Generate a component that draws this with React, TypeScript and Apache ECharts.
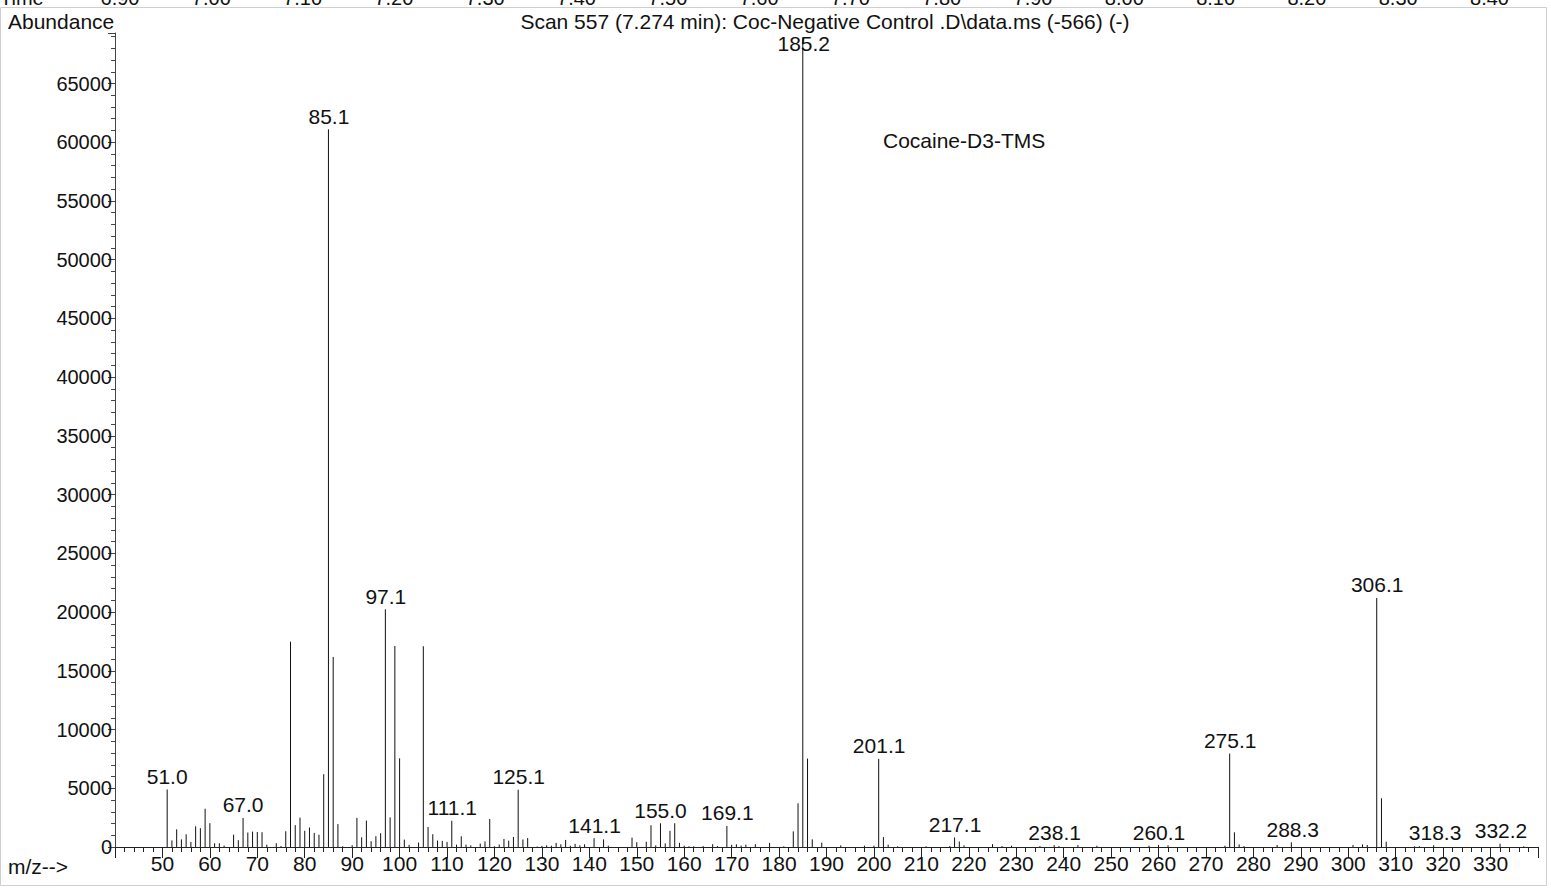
import React, { useEffect, useRef } from "react";
import * as echarts from "echarts";

const FONT = '"Liberation Sans", Arial, Helvetica, sans-serif';

// m/z of every centroided peak and its abundance
const peakMz = [
  51, 52, 53, 54, 55, 56, 57, 58, 59, 60, 61, 62, 63, 65, 66, 67, 68, 69, 70, 71, 72, 74, 75, 76, 77, 78, 79, 80,
  81, 82, 83, 84, 85, 86, 87, 88, 90, 91, 92, 93, 94, 95, 96, 97, 98, 99, 100, 101, 102, 104, 105, 106, 107, 108,
  109, 110, 111, 112, 113, 114, 115, 117, 118, 119, 120, 121, 122, 123, 124, 125, 126, 127, 129, 130, 131, 132,
  133, 134, 135, 136, 137, 138, 139, 141, 143, 144, 149, 150, 152, 153, 154, 155, 156, 157, 158, 159, 160, 161,
  162, 164, 166, 167, 169, 170, 171, 172, 173, 175, 178, 181, 183, 184, 185, 186, 187, 189, 193, 198, 200, 201,
  202, 203, 205, 211, 216, 217, 218, 219, 225, 227, 229, 235, 238, 239, 243, 247, 258, 260, 262, 274, 275, 276,
  277, 278, 285, 288, 301, 303, 304, 306, 307, 308, 314, 315, 318, 332, 337,
];
const peakAbundance = [
  4900, 560, 1500, 650, 1080, 430, 1760, 1600, 3260, 2030, 320, 320, 120, 1050, 580, 2470, 1230, 1310, 1280, 1260,
  200, 320, 90, 1340, 17480, 1860, 2500, 1380, 1660, 1200, 1050, 6200, 61100, 16180, 1950, 60, 150, 2480, 830, 2250,
  490, 920, 1170, 20240, 2520, 17110, 7550, 630, 180, 380, 17090, 1700, 1090, 550, 520, 430, 2230, 200, 910, 200,
  140, 290, 470, 2390, 60, 210, 680, 540, 850, 4880, 640, 760, 40, 90, 140, 110, 350, 230, 600, 110, 270, 140, 230,
  750, 650, 110, 800, 410, 450, 1850, 140, 2020, 310, 1380, 2020, 350, 110, 60, 60, 80, 240, 80, 1790, 190, 230,
  120, 200, 240, 350, 60, 1330, 3720, 68900, 7530, 650, 370, 140, 110, 110, 7500, 840, 200, 60, 60, 90, 810, 470,
  140, 240, 90, 110, 80, 160, 80, 160, 110, 110, 170, 140, 110, 7950, 1250, 220, 80, 170, 400, 170, 220, 170, 21200,
  4150, 450, 60, 60, 150, 280, 60,
];

// labelled peaks (m/z as printed)
const labelMz = [51.0, 67.0, 85.1, 97.1, 111.1, 125.1, 141.1, 155.0, 169.1, 185.2, 201.1, 217.1, 238.1, 260.1, 275.1, 288.3, 306.1, 318.3, 332.2];

// retention time axis (cut off at the top of the page)
const timeTickLabels = ["6.90", "7.00", "7.10", "7.20", "7.30", "7.40", "7.50", "7.60", "7.70", "7.80", "7.90", "8.00", "8.10", "8.20", "8.30", "8.40"];

const xMin = 40;
const xMax = 340;
const xInterval = 10;
const yMin = 0;
const yMax = 69300;
const yInterval = 5000;

const titleText = "Scan 557 (7.274 min): Coc-Negative Control .D\\data.ms (-566) (-)";
const compoundText = "Cocaine-D3-TMS";

export default function App() {
  const ref = useRef<HTMLDivElement>(null);

  useEffect(() => {
    if (!ref.current) return;
    const chart = echarts.init(ref.current, null, { renderer: "svg" });

    const peakData = peakMz.map((m, i) => [m, peakAbundance[i]]);
    const labelData = labelMz.map((m) => {
      const idx = peakMz.indexOf(Math.round(m));
      return [m, idx >= 0 ? peakAbundance[idx] : 0];
    });

    const timeGraphics = timeTickLabels.map((t, i) => ({
      type: "text",
      x: 120 + i * 91.3,
      y: 8,
      style: { text: t, fontSize: 20, fontFamily: FONT, fill: "#111", align: "center", verticalAlign: "bottom" },
    }));

    chart.setOption({
      animation: false,
      backgroundColor: "#ffffff",
      grid: { left: 115, right: 13, top: 33, bottom: 41, containLabel: false },
      xAxis: {
        type: "value",
        min: xMin,
        max: xMax,
        interval: xInterval,
        axisLine: { show: true, onZero: false, lineStyle: { color: "#222", width: 1 } },
        axisTick: { show: true, length: 11, lineStyle: { color: "#222", width: 1 } },
        minorTick: { show: true, splitNumber: 5, length: 5, lineStyle: { color: "#222", width: 1 } },
        axisLabel: {
          showMinLabel: false,
          showMaxLabel: false,
          margin: 6,
          fontSize: 21,
          fontFamily: FONT,
          color: "#111",
          formatter: (v: number) => String(v),
        },
        splitLine: { show: false },
        minorSplitLine: { show: false },
      },
      yAxis: {
        type: "value",
        min: yMin,
        max: yMax,
        interval: yInterval,
        axisLine: { show: true, onZero: false, lineStyle: { color: "#444", width: 1 } },
        axisTick: { show: true, length: 7, lineStyle: { color: "#444", width: 1 } },
        minorTick: { show: true, splitNumber: 5, length: 4, lineStyle: { color: "#444", width: 1 } },
        axisLabel: {
          showMaxLabel: false,
          margin: 3,
          fontSize: 20,
          fontFamily: FONT,
          color: "#111",
          formatter: (v: number) => String(v),
        },
        splitLine: { show: false },
        minorSplitLine: { show: false },
      },
      series: [
        {
          type: "custom",
          name: "peaks",
          data: peakData,
          encode: { x: 0, y: 1 },
          clip: false,
          renderItem: (params: any, api: any) => {
            const p0 = api.coord([api.value(0), 0]);
            const p1 = api.coord([api.value(0), api.value(1)]);
            return {
              type: "line",
              shape: { x1: p0[0], y1: p0[1], x2: p1[0], y2: p1[1] },
              style: { stroke: "#111", lineWidth: 1 },
            };
          },
        },
        {
          type: "custom",
          name: "labels",
          data: labelData,
          encode: { x: 0, y: 1 },
          clip: false,
          renderItem: (params: any, api: any) => {
            const p = api.coord([api.value(0), api.value(1)]);
            const top = params.coordSys.y;
            const y = Math.max(p[1] - 13, top + 10);
            return {
              type: "text",
              x: p[0],
              y,
              style: {
                text: labelMz[params.dataIndex].toFixed(1),
                align: "center",
                verticalAlign: "middle",
                fontSize: 21,
                fontFamily: FONT,
                fill: "#111",
              },
            };
          },
        },
      ],
      graphic: [
        {
          type: "rect",
          shape: { x: 0.5, y: 7.5, width: 1546, height: 878 },
          style: { fill: "none", stroke: "#cfcfcf", lineWidth: 1 },
          silent: true,
        },
        {
          type: "text",
          x: 0,
          y: 8,
          style: { text: "Time", fontSize: 20, fontFamily: FONT, fill: "#111", align: "left", verticalAlign: "bottom" },
        },
        ...timeGraphics,
        {
          type: "text",
          x: 8,
          y: 21,
          style: { text: "Abundance", fontSize: 21, fontFamily: FONT, fill: "#111", align: "left", verticalAlign: "middle" },
        },
        {
          type: "text",
          x: 825,
          y: 21,
          style: { text: titleText, fontSize: 21, fontFamily: FONT, fill: "#111", align: "center", verticalAlign: "middle" },
        },
        {
          type: "text",
          x: 883,
          y: 140,
          style: { text: compoundText, fontSize: 21, fontFamily: FONT, fill: "#111", align: "left", verticalAlign: "middle" },
        },
        {
          type: "text",
          x: 8,
          y: 866,
          style: { text: "m/z-->", fontSize: 21, fontFamily: FONT, fill: "#111", align: "left", verticalAlign: "middle" },
        },
      ],
    });

    return () => chart.dispose();
  }, []);

  return (
    <div
      ref={ref}
      style={{ position: "fixed", left: 0, top: 0, width: 1551, height: 888, background: "#fff" }}
    />
  );
}
